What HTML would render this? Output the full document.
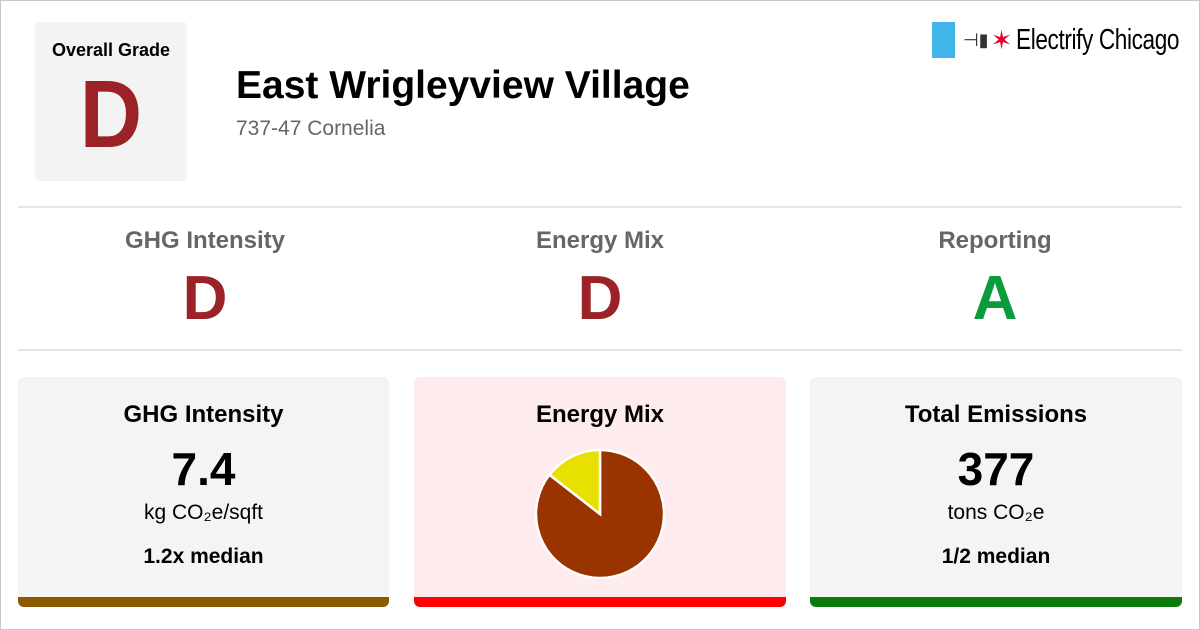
<!DOCTYPE html>
<html><head><meta charset="utf-8"><style>
body{margin:0;width:1200px;height:630px;background:#fff;font-family:"Liberation Sans",sans-serif;position:relative;overflow:hidden}
.abs{position:absolute}
.frame{left:0;top:0;width:1198px;height:628px;border:1px solid #c8c8c8}
.grade-box{left:35px;top:22px;width:152px;height:159px;background:#f3f3f3;border-radius:4px;text-align:center}
.hr{left:18px;width:1164px;height:2px;background:#e6e6e6}
.sub{width:400px;text-align:center;font-weight:bold}
.card{top:377px;width:371px;height:230px;border-radius:6px;background:#f4f4f4;text-align:center;overflow:hidden}
.card .bar{position:absolute;left:0;bottom:0;width:100%;height:10px}
</style></head><body>
<div class="abs frame"></div>
<div class="abs grade-box">
 <div style="font-size:18px;font-weight:bold;margin-top:18px">Overall Grade</div>
 <div style="font-size:96px;font-weight:bold;color:#9b2226;line-height:96px;margin-top:6px;transform:scaleX(0.9)">D</div>
</div>
<div class="abs" style="left:236px;top:64px;font-size:39px;font-weight:bold">East Wrigleyview Village</div>
<div class="abs" style="left:236px;top:117px;font-size:21px;color:#666">737-47 Cornelia</div>
<div class="abs" style="left:932px;top:22px;height:36px;display:flex;align-items:center;white-space:nowrap">
 <div style="width:23px;height:36px;background:#41b6e6;flex:none"></div>
 <span style="font-size:18px;margin-left:8px;color:#333">⊣▮</span>
 <span style="font-size:26px;color:#e4002b;margin-left:2px">✶</span>
 <span style="font-size:29px;margin-left:4px;transform:scaleX(0.78);transform-origin:left;display:inline-block;letter-spacing:-0.5px">Electrify Chicago</span>
</div>
<div class="abs hr" style="top:206px"></div>
<div class="abs hr" style="top:349px"></div>
<div class="abs sub" style="left:5px;top:227px"><div style="font-size:24px;color:#666">GHG Intensity</div><div style="font-size:62px;color:#9b2226;margin-top:8px">D</div></div>
<div class="abs sub" style="left:400px;top:227px"><div style="font-size:24px;color:#666">Energy Mix</div><div style="font-size:62px;color:#9b2226;margin-top:8px">D</div></div>
<div class="abs sub" style="left:795px;top:227px"><div style="font-size:24px;color:#666">Reporting</div><div style="font-size:62px;color:#0a9c3c;margin-top:8px">A</div></div>

<div class="abs card" style="left:18px">
 <div style="font-size:24px;font-weight:bold;margin-top:24px">GHG Intensity</div>
 <div style="font-size:46px;font-weight:bold;margin-top:14px;line-height:52px">7.4</div>
 <div style="font-size:21px;margin-top:6px">kg CO₂e/sqft</div>
 <div style="font-size:21px;font-weight:bold;margin-top:20px">1.2x median</div>
 <div class="bar" style="background:#8b5a00"></div>
</div>
<div class="abs card" style="left:414px;width:372px;background:#fdebee">
 <div style="font-size:24px;font-weight:bold;margin-top:24px">Energy Mix</div>
 <svg id="pie" class="abs" style="left:116px;top:67px" width="140" height="140"></svg>
 <div class="bar" style="background:#ff0000"></div>
</div>
<div class="abs card" style="left:810px;width:372px">
 <div style="font-size:24px;font-weight:bold;margin-top:24px">Total Emissions</div>
 <div style="font-size:46px;font-weight:bold;margin-top:14px;line-height:52px">377</div>
 <div style="font-size:21px;margin-top:6px">tons CO₂e</div>
 <div style="font-size:21px;font-weight:bold;margin-top:20px">1/2 median</div>
 <div class="bar" style="background:#0a7a0a"></div>
</div>
<script>
const categories=["Gas","Electric"];
const values=[85.5,14.5];
const colors=["#993300","#e8e000"];
const svg=document.getElementById('pie');
const cx=70,cy=70,r=64;
let a=0;const tot=values.reduce((s,v)=>s+v,0);
values.forEach((v,i)=>{
 const a0=a,a1=a+v/tot*2*Math.PI;a=a1;
 const p=t=>[cx+r*Math.sin(t),cy-r*Math.cos(t)];
 const [x0,y0]=p(a0),[x1,y1]=p(a1);
 const el=document.createElementNS('http://www.w3.org/2000/svg','path');
 el.setAttribute('d',`M${cx},${cy}L${x0},${y0}A${r},${r} 0 ${a1-a0>Math.PI?1:0} 1 ${x1},${y1}Z`);
 el.setAttribute('fill',colors[i]);el.setAttribute('stroke','#fff');el.setAttribute('stroke-width','2.5');
 
 
 svg.appendChild(el);
});
</script>
</body></html>
